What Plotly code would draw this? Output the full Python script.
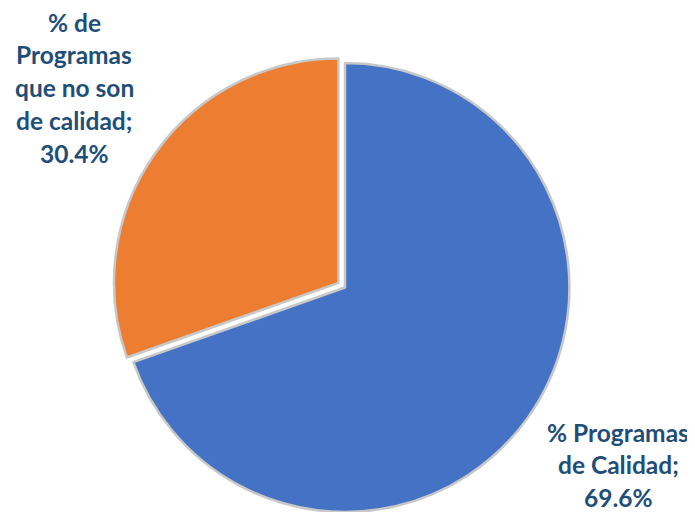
import plotly.graph_objects as go

labels = ["% Programas de Calidad", "% de Programas que no son de calidad"]
values = [69.6, 30.4]
label_lines = [
    ["% Programas", "de Calidad;", "69.6%"],
    ["% de", "Programas", "que no son", "de calidad;", "30.4%"],
]
colors = ["#4472C4", "#ED7D31"]
pulls = [0, 0.036]

OFF = 8  # page body margin
W, H = 695 - OFF, 512
cx_pie = 345 - OFF
top_dom = 55 - OFF
fig = go.Figure(go.Pie(
    labels=labels,
    values=values,
    sort=False,
    direction="clockwise",
    rotation=0,
    pull=pulls,
    marker=dict(colors=colors, line=dict(color="#C8C8C8", width=2.5)),
    textinfo="none",
    hoverinfo="label+percent",
    showlegend=False,
    domain=dict(x=[0.0, min(1.0, 2 * cx_pie / W)], y=[0.0, (H - top_dom) / H]),
))

# label anchor positions (screen pixel centres of first line) and spacing
label_pos = [(618, 432), (74, 22)]
line_gap = 32.8
text_color = "#1F4E79"
annotations = []
for lines, (cx, cy) in zip(label_lines, label_pos):
    for i, ln in enumerate(lines):
        annotations.append(dict(
            x=(cx - OFF) / W, y=1 - (cy - OFF + i * line_gap) / H,
            xref="paper", yref="paper",
            text="<b>" + ln + "</b>", showarrow=False,
            xanchor="center", yanchor="middle",
            font=dict(family="Lato", size=24.5, color=text_color),
        ))

fig.update_layout(
    width=W, height=H,
    margin=dict(l=0, r=0, t=0, b=0),
    paper_bgcolor="white", plot_bgcolor="white",
    annotations=annotations,
)
fig.write_html("out.html")
